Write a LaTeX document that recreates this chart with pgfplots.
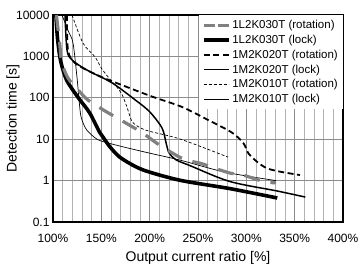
\documentclass[border=0pt]{standalone}
\usepackage{pgfplots}
\pgfplotsset{compat=1.18}
\usepackage{fontspec}
\setmainfont{Liberation Sans}
\begin{document}
\begin{tikzpicture}
\begin{axis}[
  width=290pt, height=207pt, scale only axis,
  xmin=100, xmax=400, ymin=0.1, ymax=10000, ymode=log,
  xtick={100,150,200,250,300,350,400},
  xticklabels={100\%,150\%,200\%,250\%,300\%,350\%,400\%},
  minor xtick={110,120,130,140,160,170,180,190,210,220,230,240,260,270,280,290,310,320,330,340,360,370,380,390},
  ytick={0.1,1,10,100,1000,10000},
  yticklabels={0.1,1,10,100,1000,10000},
  log basis y=10,
  grid=both,
  major grid style={black!45, line width=0.6pt},
  minor grid style={black!30, line width=0.5pt},
  major tick length=0pt, minor tick length=0pt,
  axis line style={black, line width=1.2pt},
  tick label style={font=\fontsize{12}{13}\selectfont},
  /pgf/number format/assume math mode=true,
  xticklabel style={yshift=-9pt},
  xlabel={Output current ratio [\%]},
  ylabel={Detection time [s]},
  label style={font=\fontsize{14}{15}\selectfont},
  xlabel style={at={(axis description cs:0.5,-0.174)}, anchor=center},
  ylabel style={at={(axis description cs:-0.1034,0.5)}, anchor=south, rotate=0},
  legend cell align=left,
  legend style={at={(1,1)}, anchor=north east, draw=none, fill=white,
    font=\fontsize{11.5}{12}\selectfont, row sep=1pt, inner xsep=3pt, inner ysep=3pt},
  legend image code/.code={\draw[#1] (0cm,0cm) -- (25pt,0cm);},
  every axis plot/.append style={smooth, tension=0.5},
]
\coordinate (sw) at (rel axis cs:0,0);
\coordinate (ne) at (rel axis cs:1,1);
\addlegendimage{black!50, line width=3.2pt, dash pattern=on 11pt off 3pt}
\addlegendentry{1L2K030T (rotation)}
\addlegendimage{black, line width=3.6pt}
\addlegendentry{1L2K030T (lock)}
\addlegendimage{black, line width=1.8pt, dash pattern=on 6pt off 3.5pt}
\addlegendentry{1M2K020T (rotation)}
\addlegendimage{black, line width=1.5pt}
\addlegendentry{1M2K020T (lock)}
\addlegendimage{black, line width=0.7pt, dash pattern=on 3pt off 2pt}
\addlegendentry{1M2K010T (rotation)}
\addlegendimage{black, line width=0.7pt}
\addlegendentry{1M2K010T (lock)}

% 1M2K010T (lock)
\addplot[forget plot, black, line width=0.7pt] coordinates {
(109.3,10000) (116,4000) (120.7,2100) (124.8,315) (128,50) (130,29) (135,16.6) (145.5,10) (157,8.1) (176.5,6.2) (200,4.6) (232,3.1) (278,1.6) (330.7,1.0)};
% 1M2K010T (rotation)
\addplot[forget plot, black, line width=0.7pt, dash pattern=on 3pt off 2pt] coordinates {
(119.7,10000) (131,2100) (143.5,970) (150,520) (159,280) (166,183) (171.4,120) (176.5,60) (181.7,27) (190,19) (200,15.5) (232,10) (281,3.7)};
% 1M2K020T (lock)
\addplot[forget plot, black, line width=1.5pt] coordinates {
(112.4,10000) (114.5,1420) (119.7,820) (135,470) (161,230) (185,89) (200,46) (212.8,18.6) (217,8.1) (220,4.7) (227,3.2) (241.7,2.3) (283,0.95) (332,0.56) (361,0.40)};
% 1M2K020T (rotation)
\addplot[forget plot, black, line width=1.8pt, dash pattern=on 6pt off 3.5pt] coordinates {
(114.5,10000) (115.5,1420) (122.8,690) (145.5,355) (176.5,182) (203.5,105) (233.5,60) (260,29.5) (285,14.5) (297,8) (302,4.6) (310.7,2.9) (321,2.0) (335,1.64) (355.5,1.36)};
% 1L2K030T (lock)
\addplot[forget plot, black, line width=3.6pt] coordinates {
(103,10000) (104.5,3000) (107,1000) (110,500) (114,270) (120,160) (128,88) (138,43) (148,15) (152,11) (159,6.5) (169,3.7) (185,2.2) (200,1.6) (233,1.0) (283,0.64) (332,0.38)};
% 1L2K030T (rotation)
\addplot[forget plot, black!50, line width=3.2pt, dash pattern=on 16pt off 11pt] coordinates {
(103.5,10000) (105,5000) (107,2000) (109,730) (115.5,300) (126,155) (136,89) (152,51) (164,35) (182,20) (193,14) (207,8.1) (223,4.7) (236.5,3.2) (253,2.6) (267,2.0) (284,1.5) (296.5,1.36) (318,0.95) (330.7,0.88)};
\end{axis}
\pgfresetboundingbox
\path ([shift={(-53pt,-43pt)}]sw) rectangle ([shift={(19pt,15pt)}]ne);
\end{tikzpicture}
\end{document}
